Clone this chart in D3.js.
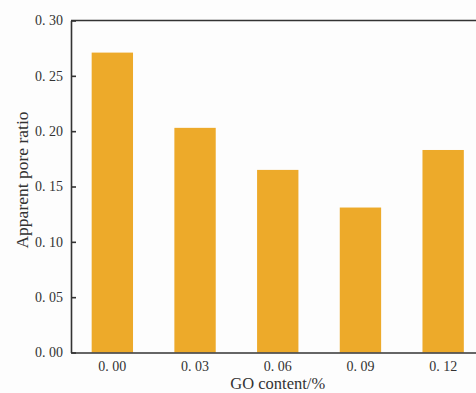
<!DOCTYPE html>
<html>
<head>
<meta charset="utf-8">
<script src="https://cdn.jsdelivr.net/npm/d3@7"></script>
<style>
  html, body { margin: 0; padding: 0; background: #fdfdfd; }
  svg { display: block; }
  text { font-family: "Liberation Serif", "DejaVu Serif", serif; fill: #333; }
</style>
</head>
<body>
<svg id="chart" width="476" height="393"></svg>
<script>
// GO content (%) and measured apparent pore ratio
const categories = ["0. 00", "0. 03", "0. 06", "0. 09", "0. 12"];
const values = [0.271, 0.203, 0.165, 0.131, 0.183];
const yTicks = [0, 0.05, 0.10, 0.15, 0.20, 0.25, 0.30];
const yTickLabels = ["0. 00", "0. 05", "0. 10", "0. 15", "0. 20", "0. 25", "0. 30"];

(function () {
  const svg = d3.select("#chart");
  const W = 476, H = 393;
  svg.append("rect").attr("width", W).attr("height", H).attr("fill", "#fdfdfd");

  // plot frame (right side runs past the canvas edge)
  const mLeft = 71, mTop = 20.5, mBottom = 352.5, mRight = 484.5;

  const x = d3.scaleBand().domain(categories).range([mLeft, mRight]).paddingInner(0.5).paddingOuter(0.25);
  const y = d3.scaleLinear().domain([0, 0.30]).range([mBottom, mTop]);

  // bars
  svg.append("g").selectAll("rect").data(values).join("rect")
    .attr("x", (d, i) => x(categories[i]))
    .attr("y", d => y(d))
    .attr("width", x.bandwidth())
    .attr("height", d => y(0) - y(d))
    .attr("fill", "#EDAA2A");

  // y axis with inward ticks
  const yAxis = d3.axisLeft(y).tickValues(yTicks).tickSizeInner(-5).tickSizeOuter(0).tickPadding(8)
    .tickFormat((d, i) => yTickLabels[i]);
  const gy = svg.append("g").attr("transform", `translate(${mLeft},0)`).call(yAxis);
  gy.select(".domain").attr("stroke", "#333").attr("stroke-width", 1.6);
  gy.selectAll(".tick line").attr("stroke", "#333").attr("stroke-width", 1.6);
  gy.selectAll(".tick text").attr("font-size", 14).attr("fill", "#3a3a3a")
    .style("font-family", "'Liberation Serif', serif");

  // x axis without tick marks
  const xAxis = d3.axisBottom(x).tickSize(0).tickPadding(9);
  const gx = svg.append("g").attr("transform", `translate(0,${mBottom})`).call(xAxis);
  gx.select(".domain").attr("stroke", "#333").attr("stroke-width", 1.6);
  gx.selectAll(".tick text").attr("font-size", 14).attr("fill", "#3a3a3a")
    .style("font-family", "'Liberation Serif', serif");

  // top border
  svg.append("line").attr("x1", mLeft).attr("x2", mRight).attr("y1", mTop).attr("y2", mTop)
    .attr("stroke", "#333").attr("stroke-width", 1.6);

  // axis titles
  svg.append("text").attr("x", x(categories[2]) + x.bandwidth() / 2).attr("y", 389)
    .attr("text-anchor", "middle").attr("font-size", 16.5).attr("fill", "#222")
    .text("GO content/%");
  svg.append("text")
    .attr("transform", `translate(28,180) rotate(-90)`)
    .attr("text-anchor", "middle").attr("font-size", 17.5).attr("fill", "#222")
    .text("Apparent pore ratio");
})();
</script>
</body>
</html>
